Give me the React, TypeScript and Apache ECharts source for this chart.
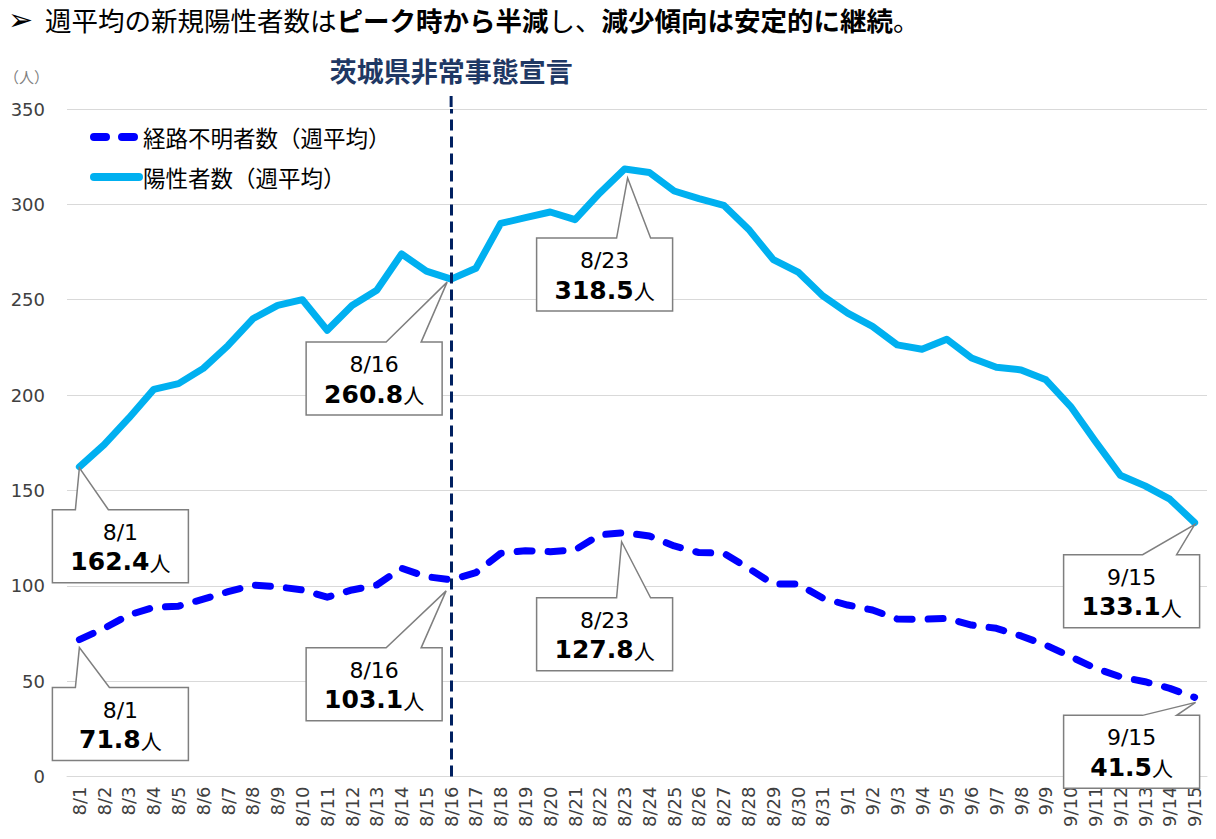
import React, { useEffect, useRef } from "react";
import * as echarts from "echarts";

const categories = [
  "8/1", "8/2", "8/3", "8/4", "8/5", "8/6", "8/7", "8/8", "8/9", "8/10",
  "8/11", "8/12", "8/13", "8/14", "8/15", "8/16", "8/17", "8/18", "8/19", "8/20",
  "8/21", "8/22", "8/23", "8/24", "8/25", "8/26", "8/27", "8/28", "8/29", "8/30",
  "8/31", "9/1", "9/2", "9/3", "9/4", "9/5", "9/6", "9/7", "9/8", "9/9",
  "9/10", "9/11", "9/12", "9/13", "9/14", "9/15",
];

const positiveAvg = [
  162.4, 174, 188, 203, 206, 214, 226, 240, 247, 250,
  234, 247, 255, 274, 265, 260.8, 266.5, 290, 293, 296,
  292, 306, 318.5, 316.7, 307, 303, 299.5, 287, 271, 264.5,
  252, 243, 236, 226.3, 224, 229.3, 219.4, 214.6, 213.2, 208,
  194, 175.6, 158, 152.4, 145.4, 133.1,
];

const unknownAvg = [
  71.8, 77.7, 84.7, 88.7, 89.3, 93, 96.9, 100.4, 99.5, 97.8,
  94, 97.8, 100.4, 109.2, 104.8, 103.1, 106.9, 117, 118.4, 117.9,
  118.8, 126.7, 127.8, 126.1, 120.9, 117.4, 117.1, 109.2, 100.9, 100.9,
  93.5, 89.9, 87.3, 82.6, 82.4, 82.9, 79.4, 77.7, 73.7, 68.9,
  62.8, 56.7, 52.3, 49.7, 46.2, 41.5,
];

const seriesNames = ["経路不明者数（週平均）", "陽性者数（週平均）"];
const seriesColors = ["#0000FF", "#00B0F0"];
const declarationDate = "8/16";
const declarationTitle = "茨城県非常事態宣言";
const unitLabel = "（人）";
const yMax = 350;
const yInterval = 50;

// callouts: which series, which category, and bubble geometry relative to the point
const callouts = [
  { s: 1, cat: "8/1", dx: -27, dy: 43, b1: 23, b2: 56, ax: 0, ay: 1 },
  { s: 1, cat: "8/16", dx: -145, dy: 63, b1: 80, b2: 115, ax: -4, ay: 3 },
  { s: 1, cat: "8/23", dx: -88, dy: 69, b1: 80, b2: 114, ax: 3, ay: 9 },
  { s: 1, cat: "9/15", dx: -131, dy: 32, b1: 79, b2: 113, ax: 0, ay: 2 },
  { s: 0, cat: "8/1", dx: -27, dy: 48, b1: 23, b2: 57, ax: 0, ay: 8 },
  { s: 0, cat: "8/16", dx: -145, dy: 68, b1: 80, b2: 115, ax: -5, ay: 11 },
  { s: 0, cat: "8/23", dx: -88, dy: 65, b1: 80, b2: 114, ax: -3, ay: 9 },
  { s: 0, cat: "9/15", dx: -131, dy: 18, b1: 79, b2: 113, ax: 1, ay: 5 },
];

const JP = "'Noto Sans CJK JP', 'Noto Sans', sans-serif";
const NUM = "'DejaVu Sans', 'Noto Sans', sans-serif";

export default function App() {
  const ref = useRef<HTMLDivElement>(null);

  useEffect(() => {
    if (!ref.current) return;
    const chart = echarts.init(ref.current, undefined, { renderer: "svg" });

    const option: any = {
      animation: false,
      backgroundColor: "#ffffff",
      grid: { left: 67, right: 9, top: 109, bottom: 62.5, containLabel: false },
      legend: { show: false },
      xAxis: {
        type: "category",
        data: categories,
        boundaryGap: true,
        axisLine: { lineStyle: { color: "#D9D9D9", width: 1 } },
        axisTick: { show: false },
        axisLabel: {
          rotate: 90,
          interval: 0,
          fontSize: 18,
          color: "#404040",
          fontFamily: NUM,
          margin: 10,
        },
      },
      yAxis: {
        type: "value",
        min: 0,
        max: yMax,
        interval: yInterval,
        axisLine: { show: false },
        axisTick: { show: false },
        splitLine: { lineStyle: { color: "#D9D9D9", width: 1 } },
        axisLabel: { fontSize: 18, color: "#404040", fontFamily: NUM, margin: 22 },
      },
      series: [
        {
          name: seriesNames[0],
          type: "line",
          data: unknownAvg,
          symbol: "none",
          lineStyle: { color: seriesColors[0], width: 7, type: [15, 16], cap: "round", join: "round" },
          itemStyle: { color: seriesColors[0] },
          z: 3,
        },
        {
          name: seriesNames[1],
          type: "line",
          data: positiveAvg,
          symbol: "none",
          lineStyle: { color: seriesColors[1], width: 7, join: "round", cap: "round" },
          itemStyle: { color: seriesColors[1] },
          z: 3,
          markLine: {
            silent: true,
            symbol: "none",
            label: { show: false },
            lineStyle: { color: "#002060", width: 3, type: [11, 6] },
            data: [{ xAxis: declarationDate }],
          },
        },
      ],
    };
    chart.setOption(option);

    const data = [unknownAvg, positiveAvg];
    const graphics: any[] = [];

    // header sentence
    graphics.push({
      type: "text",
      x: 8,
      y: 19,
      style: { text: "➢", fontSize: 30, fontFamily: NUM, fill: "#000", textVerticalAlign: "middle" },
    });
    graphics.push({
      type: "text",
      x: 45,
      y: 19,
      style: {
        text: "{n|週平均の新規陽性者数は}{b|ピーク時から半減}{n|し、}{b|減少傾向は安定的に継続}{n|。}",
        textVerticalAlign: "middle",
        rich: {
          n: { fontSize: 26.5, fontFamily: JP, fill: "#000" },
          b: { fontSize: 26.5, fontFamily: JP, fontWeight: "bold", fill: "#000" },
        },
      },
    });

    // unit label
    graphics.push({
      type: "text",
      x: 4,
      y: 76,
      style: { text: unitLabel, fontSize: 15, fontFamily: JP, fill: "#7F7F7F", textVerticalAlign: "middle" },
    });

    // legend (drawn manually to match line icons)
    const legendRows = [
      { y: 137, dash: [12, 16] },
      { y: 177, dash: null },
    ];
    legendRows.forEach((r, i) => {
      graphics.push({
        type: "line",
        shape: { x1: 94, y1: r.y, x2: 139, y2: r.y },
        style: {
          stroke: seriesColors[i],
          lineWidth: 8,
          lineCap: "round",
          lineDash: r.dash || undefined,
        },
      });
      graphics.push({
        type: "text",
        x: 143,
        y: r.y,
        style: {
          text: seriesNames[i],
          fontSize: 22.5,
          fontFamily: JP,
          fill: "#000",
          textVerticalAlign: "middle",
        },
      });
    });

    // title above declaration line
    const declX = chart.convertToPixel({ xAxisIndex: 0, yAxisIndex: 0 }, [categories.indexOf(declarationDate), yMax]);
    graphics.push({
      type: "text",
      x: declX[0],
      y: 70,
      style: {
        text: declarationTitle,
        fontSize: 27,
        fontWeight: "bold",
        fontFamily: JP,
        fill: "#1F3864",
        textAlign: "center",
        textVerticalAlign: "middle",
      },
    });
    // extend declaration line slightly above plot top
    graphics.push({
      type: "line",
      shape: { x1: declX[0], y1: 96, x2: declX[0], y2: declX[1] },
      style: { stroke: "#002060", lineWidth: 3, lineDash: [11, 6] },
      z: 5,
    });

    const W = 136;
    const H = 73;
    callouts.forEach((c) => {
      const idx = categories.indexOf(c.cat);
      const v = data[c.s][idx];
      const p = chart.convertToPixel({ xAxisIndex: 0, yAxisIndex: 0 }, [idx, v]);
      const L = p[0] + c.dx;
      const T = p[1] + c.dy;
      graphics.push({
        type: "polygon",
        z: 10,
        shape: {
          points: [
            [L, T],
            [L + c.b1, T],
            [p[0] + c.ax, p[1] + c.ay],
            [L + c.b2, T],
            [L + W, T],
            [L + W, T + H],
            [L, T + H],
          ],
        },
        style: { fill: "#ffffff", stroke: "#7F7F7F", lineWidth: 1.5 },
      });
      graphics.push({
        type: "text",
        z: 11,
        x: L + W / 2,
        y: T + 8,
        style: {
          text: `{d|${c.cat}}\n{v|${v.toFixed(1)}}{u|人}`,
          textAlign: "center",
          textVerticalAlign: "top",
          rich: {
            d: { fontSize: 22, fontFamily: NUM, fill: "#000", lineHeight: 29, align: "center" },
            v: { fontSize: 25, fontFamily: NUM, fontWeight: "bold", fill: "#000", lineHeight: 30 },
            u: { fontSize: 21, fontFamily: JP, fill: "#000", lineHeight: 30 },
          },
        },
      });
    });

    chart.setOption({ graphic: graphics });

    return () => chart.dispose();
  }, []);

  return (
    <div
      ref={ref}
      style={{ position: "fixed", left: 0, top: 0, width: 1216, height: 839, background: "#fff" }}
    />
  );
}
